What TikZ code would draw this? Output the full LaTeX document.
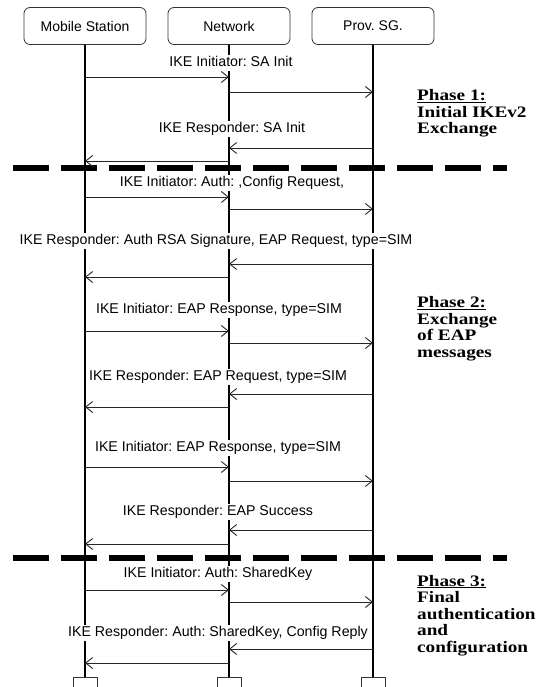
\documentclass[tikz,border=0pt]{standalone}
\usepackage{fontspec}
\setmainfont{Liberation Sans}
\newfontfamily\phasefont[FakeStretch=1.2]{Liberation Serif}
\usetikzlibrary{arrows.meta}
\frenchspacing

\begin{document}
\begin{tikzpicture}[x=1pt,y=-1pt,
  station/.style={draw=black!80, line width=0.8pt, rounded corners=6pt,
    minimum width=122pt, minimum height=37pt, font=\fontsize{14}{16}\selectfont},
  foot/.style={draw=black!80, line width=0.8pt, minimum width=24pt,
    minimum height=14pt, anchor=north, inner sep=0pt},
  life/.style={line width=2.2pt},
  msg/.style={fill=white, inner xsep=1pt, inner ysep=1.5pt, text height=10.5pt,
    text depth=3pt, font=\fontsize{14.2}{16}\selectfont},
  arr/.style={-{Straight Barb[length=7pt,width=11pt]}, line width=0.9pt, black!85},
  sep/.style={line width=5.5pt, dash pattern=on 36pt off 12pt},
  phase/.style={anchor=base west, align=left, inner sep=0pt,
    font=\phasefont\bfseries\fontsize{16}{16.5}\selectfont}]

\useasboundingbox (0,0) rectangle (538,687);

% Stations
\node[station] (ms) at (85,26) {Mobile Station};
\node[station] (nw) at (229,26) {Network};
\node[station] (sg) at (373,26) {Prov. SG.};

% Feet (cut by the page edge)
\node[foot] (msf) at (85,677) {};
\node[foot] (nwf) at (229,677) {};
\node[foot] (sgf) at (373,677) {};

% Lifelines
\draw[life] (ms) -- (msf);
\draw[life] (nw) -- (nwf);
\draw[life] (sg) -- (sgf);

% Phase separators
\coordinate (s1a) at (13,168);  \coordinate (s1b) at (507,168);
\coordinate (s2a) at (13,558);  \coordinate (s2b) at (507,558);
\draw[sep] (s1a) -- (s1b);
\draw[sep] (s2a) -- (s2b);

% Message labels
\node[msg] (l1) at (231,63)  {IKE Initiator: SA Init};
\node[msg] (l2) at (232,129) {IKE Responder: SA Init};
\node[msg] (l3) at (232,183) {IKE Initiator: Auth: ,Config Request,};
\node[msg] (l4) at (216,241) {IKE Responder: Auth RSA Signature, EAP Request, type=SIM};
\node[msg] (l5) at (219,310) {IKE Initiator: EAP Response, type=SIM};
\node[msg] (l6) at (218,377) {IKE Responder: EAP Request, type=SIM};
\node[msg] (l7) at (218,448) {IKE Initiator: EAP Response, type=SIM};
\node[msg] (l8) at (218,512) {IKE Responder: EAP Success};
\node[msg] (l9) at (218,574) {IKE Initiator: Auth: SharedKey};
\node[msg] (l10) at (218,633) {IKE Responder: Auth: SharedKey, Config Reply};

% Arrows (mobile -> network -> SG, then back)
\foreach \y in {77,197,331,467,590}
  \draw[arr] (ms |- 0,\y) -- (nw |- 0,\y);
\foreach \y in {92,209,343,481,602}
  \draw[arr] (nw |- 0,\y) -- (sg |- 0,\y);
\foreach \y in {148,264,394,530,649}
  \draw[arr] (sg |- 0,\y) -- (nw |- 0,\y);
\foreach \y in {161,277,407,544,663}
  \draw[arr] (nw |- 0,\y) -- (ms |- 0,\y);

% Phase names (base = last line)
\node[phase] (p1) at (417,134) {\underline{Phase 1:}\\Initial IKEv2\\Exchange};
\node[phase] (p2) at (417,357) {\underline{Phase 2:}\\Exchange\\of EAP\\messages};
\node[phase] (p3) at (417,652) {\underline{Phase 3:}\\Final\\authentication\\and\\configuration};
\end{tikzpicture}
\end{document}
